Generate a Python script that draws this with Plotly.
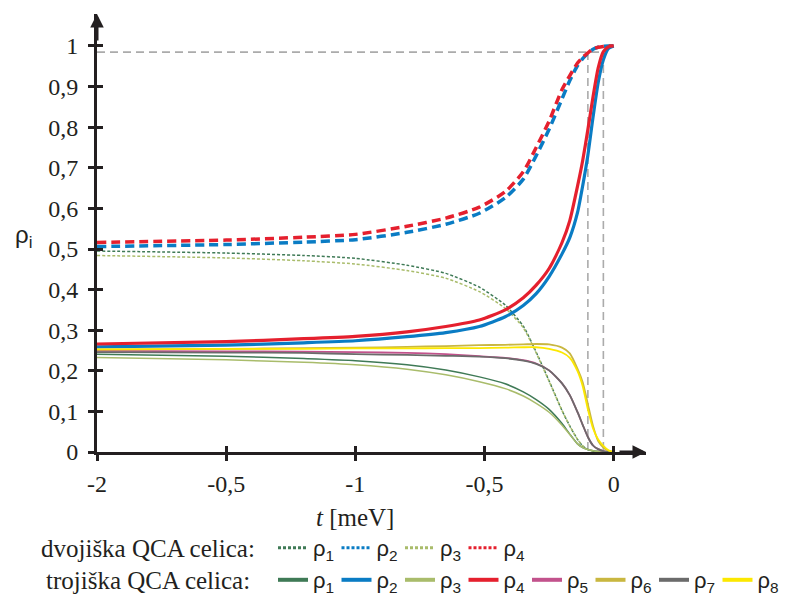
import plotly.graph_objects as go

# ---------------- data ----------------
t = [-2, -1.5, -1.2, -1.0, -0.8, -0.65, -0.52, -0.42, -0.35, -0.3, -0.25,
     -0.2, -0.17, -0.14, -0.12, -0.1, -0.08, -0.06, -0.04, -0.02, 0]

# dvojiška QCA celica (dashed / dotted)
dvo_rho1 = [0.495, 0.490, 0.484, 0.477, 0.460, 0.440, 0.406, 0.362, 0.310, 0.246, 0.175,
            0.102, 0.064, 0.031, 0.015, 0.006, 0.002, 0.001, 0.0, 0.0, 0.0]
dvo_rho2 = [0.506, 0.511, 0.517, 0.523, 0.541, 0.561, 0.588, 0.626, 0.672, 0.730, 0.795,
            0.870, 0.915, 0.952, 0.969, 0.982, 0.992, 0.997, 0.999, 1.0, 1.0]
dvo_rho3 = [0.484, 0.478, 0.471, 0.463, 0.447, 0.428, 0.395, 0.354, 0.306, 0.244, 0.174,
            0.102, 0.064, 0.031, 0.015, 0.006, 0.002, 0.001, 0.0, 0.0, 0.0]
dvo_rho4 = [0.516, 0.522, 0.529, 0.536, 0.556, 0.576, 0.603, 0.641, 0.690, 0.750, 0.815,
            0.893, 0.927, 0.958, 0.972, 0.983, 0.993, 0.997, 0.999, 1.0, 1.0]

# trojiška QCA celica (solid)
tro_rho1 = [0.241, 0.236, 0.230, 0.225, 0.215, 0.202, 0.185, 0.168, 0.148, 0.129, 0.105,
            0.070, 0.044, 0.020, 0.011, 0.006, 0.003, 0.001, 0.0, 0.0, 0.0]
tro_rho2 = [0.259, 0.263, 0.269, 0.274, 0.284, 0.294, 0.309, 0.333, 0.361, 0.390, 0.432,
            0.488, 0.528, 0.590, 0.656, 0.731, 0.825, 0.910, 0.966, 0.994, 1.0]
tro_rho3 = [0.233, 0.227, 0.221, 0.215, 0.204, 0.190, 0.173, 0.156, 0.138, 0.120, 0.098,
            0.066, 0.043, 0.020, 0.011, 0.006, 0.003, 0.001, 0.0, 0.0, 0.0]
tro_rho4 = [0.266, 0.272, 0.279, 0.285, 0.296, 0.309, 0.325, 0.350, 0.380, 0.411, 0.452,
            0.516, 0.570, 0.655, 0.718, 0.794, 0.875, 0.946, 0.986, 0.998, 1.0]
tro_rho5 = [0.249, 0.248, 0.247, 0.246, 0.244, 0.241, 0.236, 0.232, 0.226, 0.218, 0.201,
            0.169, 0.140, 0.098, 0.067, 0.037, 0.016, 0.007, 0.002, 0.0, 0.0]
tro_rho6 = [0.252, 0.254, 0.256, 0.257, 0.259, 0.261, 0.263, 0.264, 0.265, 0.266, 0.265,
            0.257, 0.243, 0.205, 0.172, 0.118, 0.064, 0.027, 0.011, 0.003, 0.0]
tro_rho7 = [0.246, 0.245, 0.244, 0.241, 0.239, 0.237, 0.235, 0.231, 0.225, 0.217, 0.201,
            0.169, 0.140, 0.098, 0.067, 0.037, 0.016, 0.007, 0.002, 0.0, 0.0]
tro_rho8 = [0.253, 0.254, 0.254, 0.255, 0.255, 0.256, 0.256, 0.257, 0.258, 0.258, 0.254,
            0.245, 0.232, 0.199, 0.162, 0.105, 0.058, 0.031, 0.015, 0.004, 0.0]

# guide lines (0.99 level and where it is reached)
guide_level = 0.985
guide_t = [-0.1, -0.04]

x_tickvals = [-2, -1.5, -1, -0.5, 0]
x_ticktext = ["-2", "-0,5", "-1", "-0,5", "0"]
y_tickvals = [0, 0.1, 0.2, 0.3, 0.4, 0.5, 0.6, 0.7, 0.8, 0.9, 1]
y_ticktext = ["0", "0,1", "0,2", "0,3", "0,4", "0,5", "0,6", "0,7", "0,8", "0,9", "1"]

labels = ["ρ<sub>%d</sub>" % i for i in range(1, 9)]

# ---------------- styles ----------------
GREEN = "#3F7A56"
BLUE = "#0A7CC4"
LGREEN = "#A9BC6B"
RED = "#E5202E"
PINK = "#C2528C"
OLIVE = "#C9B740"
GREY = "#6B6B6B"
YELLOW = "#FCE800"
AX = "#231F20"
SERIF = "Liberation Serif"
SANS = "Liberation Sans"

XMAX = 0.125
YMAX = 1.0788

# the page body has an 8 px margin: positions below are given in screen pixels
OFF = 8
W, H = 790 - OFF, 597 - OFF
L, R, T, B = 97 - OFF, 144, 14 - OFF, 145
pw = W - L - R
ph = H - T - B


def px_x(p):
    return (p - OFF - L) / pw


def px_y(p):
    return (H - B - (p - OFF)) / ph


fig = go.Figure()

# guide lines
gx = [-2, guide_t[1], None, guide_t[0], guide_t[0], None, guide_t[1], guide_t[1]]
gy = [guide_level, guide_level, None, guide_level, 0, None, guide_level, 0]
fig.add_trace(go.Scatter(x=gx, y=gy, mode="lines", showlegend=False, hoverinfo="skip",
                         line=dict(color="#ABABAB", width=1.6, dash="8px,5px")))

dvo = [(dvo_rho1, GREEN, 1.5, "3px,2px"), (dvo_rho2, BLUE, 3.5, "9px,5px"),
       (dvo_rho3, LGREEN, 1.5, "3px,2px"), (dvo_rho4, RED, 3.5, "9px,5px")]
for vals, col, w, d in dvo:
    fig.add_trace(go.Scatter(x=t, y=vals, mode="lines", showlegend=False,
                             line=dict(color=col, width=w, dash=d, shape="spline", smoothing=0.6)))

tro = [(tro_rho1, GREEN, 1.5), (tro_rho2, BLUE, 3.2), (tro_rho3, LGREEN, 1.5),
       (tro_rho4, RED, 3.2), (tro_rho5, PINK, 1.8), (tro_rho6, OLIVE, 1.8),
       (tro_rho7, GREY, 1.8), (tro_rho8, YELLOW, 1.8)]
for vals, col, w in tro:
    fig.add_trace(go.Scatter(x=t, y=vals, mode="lines", showlegend=False,
                             line=dict(color=col, width=w, shape="spline", smoothing=0.6)))

# legend entries
for i, (vals, col, w, d) in enumerate(dvo):
    fig.add_trace(go.Scatter(x=[None], y=[None], mode="lines", name=labels[i], legend="legend",
                             line=dict(color=col, width=3, dash="3px,2px")))
for i, (vals, col, w) in enumerate(tro):
    fig.add_trace(go.Scatter(x=[None], y=[None], mode="lines", name=labels[i], legend="legend2",
                             legendwidth=30 if i == len(tro) - 1 else None,
                             line=dict(color=col, width=4)))

# overlay axes to make ticks cross the axis lines
fig.add_trace(go.Scatter(x=[None], y=[None], xaxis="x2", yaxis="y2", showlegend=False))

tickfont = dict(family=SERIF, size=24, color=AX)
common_x = dict(range=[-2, XMAX], tickvals=x_tickvals, showgrid=False, zeroline=False,
                tickwidth=2.5, tickcolor=AX, ticklen=6)
common_y = dict(range=[0, YMAX], tickvals=y_tickvals, showgrid=False, zeroline=False,
                tickwidth=2.5, tickcolor=AX, ticklen=6)

legend_common = dict(orientation="h", xanchor="left", yanchor="middle",
                     bgcolor="rgba(0,0,0,0)", borderwidth=0,
                     entrywidth=18.5, entrywidthmode="pixels",
                     font=dict(family=SANS, size=22, color=AX), traceorder="normal")

fig.update_layout(
    width=W, height=H,
    margin=dict(l=L, r=R, t=T, b=B, autoexpand=False),
    paper_bgcolor="white", plot_bgcolor="white",
    font=dict(family=SERIF, color=AX),
    showlegend=True,
    xaxis=dict(**common_x, ticktext=x_ticktext, ticks="outside", tickfont=tickfont,
               showline=True, linecolor=AX, linewidth=3, ticklabelstandoff=2),
    yaxis=dict(**common_y, ticktext=y_ticktext, ticks="outside", tickfont=tickfont,
               showline=True, linecolor=AX, linewidth=3, ticklabelstandoff=5),
    xaxis2=dict(**common_x, overlaying="x", anchor="y", side="bottom", ticks="inside",
                showticklabels=False, showline=False),
    yaxis2=dict(**common_y, overlaying="y", anchor="x", side="left", ticks="inside",
                showticklabels=False, showline=False),
    legend=dict(**legend_common, x=px_x(273), y=px_y(548)),
    legend2=dict(**legend_common, x=px_x(273), y=px_y(580)),
)

annotations = [
    # axis arrows
    dict(x=XMAX, y=0, xref="x", yref="y", ax=-28, ay=0, showarrow=True, text="",
         arrowhead=2, arrowsize=0.9, arrowwidth=3, arrowcolor=AX, standoff=0),
    dict(x=-2, y=YMAX, xref="x", yref="y", ax=0, ay=28, showarrow=True, text="",
         arrowhead=2, arrowsize=0.9, arrowwidth=3, arrowcolor=AX, standoff=0),
    # axis titles
    dict(x=-1, y=px_y(517), xref="x", yref="paper", showarrow=False,
         text="<i>t</i> [meV]", font=dict(family=SERIF, size=25, color=AX),
         xanchor="center", yanchor="middle"),
    dict(x=px_x(23), y=px_y(236), xref="paper", yref="paper", showarrow=False,
         text="ρ<sub>i</sub>",
         font=dict(family=SANS, size=24, color=AX), xanchor="center", yanchor="middle"),
    # legend titles
    dict(x=px_x(148), y=px_y(548), xref="paper", yref="paper", showarrow=False,
         text="dvojiška QCA celica:", font=dict(family=SERIF, size=25, color=AX),
         xanchor="center", yanchor="middle"),
    dict(x=px_x(148), y=px_y(580), xref="paper", yref="paper", showarrow=False,
         text="trojiška QCA celica:", font=dict(family=SERIF, size=25, color=AX),
         xanchor="center", yanchor="middle"),
]
fig.update_layout(annotations=annotations)

fig.write_html("out.html")
